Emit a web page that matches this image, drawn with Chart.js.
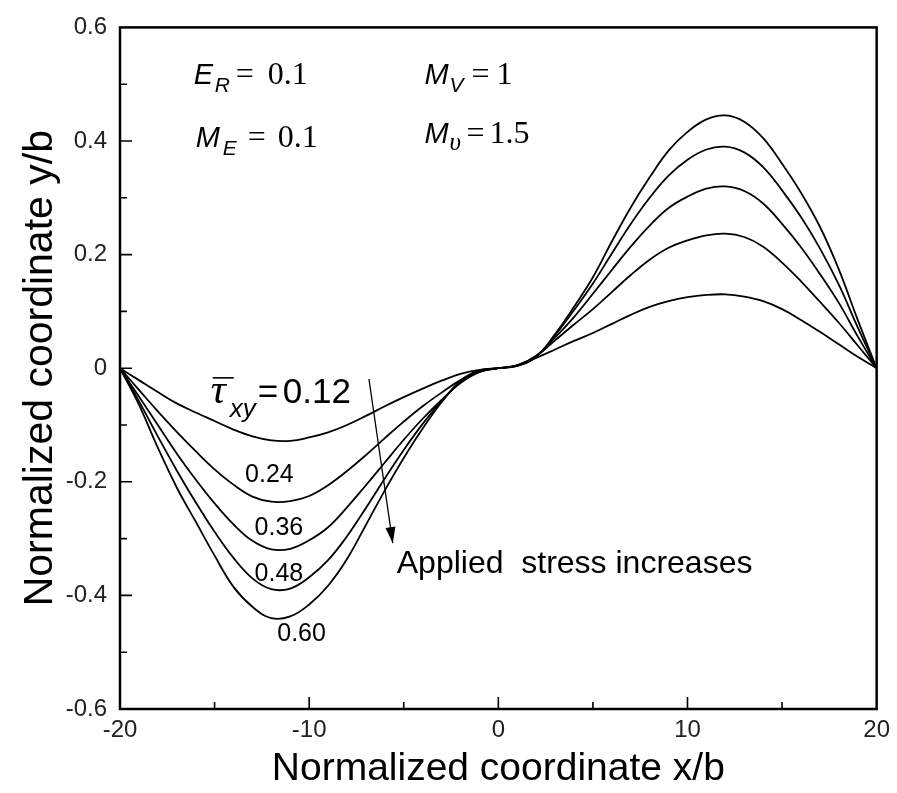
<!DOCTYPE html>
<html lang="en">
<head>
<meta charset="UTF-8">
<title>Normalized coordinate y/b vs x/b</title>
<style>
  body { margin: 0; background: #fff; }
  #chart { display: block; }
</style>
</head>
<body>
<canvas id="chart" width="897" height="793"></canvas>
<script src="https://cdn.jsdelivr.net/npm/chart.js@4"></script>
<script>
// x/b positions shared by every curve
var xValues = [-20, -19, -18, -17, -16, -15, -14, -13, -12, -11, -10, -9, -8, -7, -6, -5, -4, -3, -2, -1,
               0, 1, 2, 3, 4, 5, 6, 7, 8, 9, 10, 11, 12, 13, 14, 15, 16, 17, 18, 19, 20];

// y/b, one array per applied stress
var tau012 = [0, -0.021, -0.042, -0.062, -0.078, -0.093, -0.108, -0.12, -0.127, -0.128, -0.122, -0.113, -0.1, -0.084, -0.067, -0.051, -0.036, -0.022, -0.01, -0.003,
              0, 0.005, 0.018, 0.033, 0.048, 0.062, 0.078, 0.094, 0.108, 0.118, 0.125, 0.129, 0.130, 0.126, 0.118, 0.104, 0.085, 0.064, 0.042, 0.02, 0];
var tau024 = [0, -0.038, -0.076, -0.112, -0.146, -0.178, -0.205, -0.226, -0.235, -0.234, -0.225, -0.206, -0.181, -0.153, -0.123, -0.094, -0.067, -0.043, -0.021, -0.006,
              0, 0.005, 0.021, 0.049, 0.077, 0.104, 0.134, 0.164, 0.191, 0.212, 0.225, 0.234, 0.237, 0.231, 0.214, 0.186, 0.153, 0.117, 0.080, 0.04, 0];
var tau036 = [0, -0.05, -0.1, -0.15, -0.196, -0.238, -0.275, -0.304, -0.319, -0.318, -0.303, -0.28, -0.245, -0.206, -0.166, -0.126, -0.089, -0.056, -0.026, -0.007,
              0, 0.005, 0.022, 0.054, 0.09, 0.131, 0.173, 0.214, 0.251, 0.282, 0.302, 0.316, 0.320, 0.312, 0.290, 0.254, 0.213, 0.166, 0.115, 0.056, 0];
var tau048 = [0, -0.058, -0.12, -0.18, -0.236, -0.288, -0.334, -0.37, -0.389, -0.388, -0.368, -0.338, -0.296, -0.246, -0.194, -0.144, -0.098, -0.058, -0.025, -0.005,
              0, 0.004, 0.02, 0.058, 0.102, 0.149, 0.202, 0.254, 0.300, 0.339, 0.367, 0.385, 0.390, 0.380, 0.354, 0.313, 0.266, 0.211, 0.147, 0.072, 0];
var tau060 = [0, -0.064, -0.14, -0.21, -0.27, -0.33, -0.385, -0.42, -0.44, -0.437, -0.416, -0.383, -0.336, -0.276, -0.215, -0.158, -0.106, -0.06, -0.022, -0.004,
              0, 0.004, 0.02, 0.06, 0.108, 0.160, 0.223, 0.283, 0.336, 0.383, 0.416, 0.438, 0.445, 0.434, 0.405, 0.360, 0.309, 0.249, 0.174, 0.085, 0];

var curveLabels = ['0.24', '0.36', '0.48', '0.60'];

// inward tick marks
var xMajorTicks = [-10, 0, 10];
var xMinorTicks = [-15, -5, 5, 15];
var yMajorTicks = [-0.4, -0.2, 0, 0.2, 0.4];
var yMinorTicks = [-0.5, -0.3, -0.1, 0.1, 0.3, 0.5];

var SANS = "'Liberation Sans', Arial, sans-serif";
var SERIF = "'Liberation Serif', 'Times New Roman', serif";

function toPoints(ys) {
    return xValues.map(function (x, i) { return { x: x, y: ys[i] }; });
}

var datasets = [tau012, tau024, tau036, tau048, tau060].map(function (ys) {
    return {
        data: toPoints(ys),
        borderColor: '#000',
        borderWidth: 1.8,
        pointRadius: 0,
        fill: false,
        tension: 0.4
    };
});

function drawParts(ctx, x0, y0, parts) {
    parts.forEach(function (p) {
        ctx.font = p.f;
        ctx.fillText(p.t, x0 + p.dx, y0 + (p.dy || 0));
    });
}

// frame and inward ticks
var framePlugin = {
    id: 'framePlugin',
    afterDraw: function (chart) {
        var ctx = chart.ctx, a = chart.chartArea, xs = chart.scales.x, ys = chart.scales.y;
        ctx.save();
        ctx.strokeStyle = '#000';
        ctx.lineWidth = 1.6;
        ctx.beginPath();
        xMajorTicks.forEach(function (v) {
            var px = xs.getPixelForValue(v);
            ctx.moveTo(px, a.bottom); ctx.lineTo(px, a.bottom - 12);
        });
        xMinorTicks.forEach(function (v) {
            var px = xs.getPixelForValue(v);
            ctx.moveTo(px, a.bottom); ctx.lineTo(px, a.bottom - 7);
        });
        yMajorTicks.forEach(function (v) {
            var py = ys.getPixelForValue(v);
            ctx.moveTo(a.left, py); ctx.lineTo(a.left + 12, py);
        });
        yMinorTicks.forEach(function (v) {
            var py = ys.getPixelForValue(v);
            ctx.moveTo(a.left, py); ctx.lineTo(a.left + 7, py);
        });
        ctx.stroke();
        ctx.lineWidth = 2.5;
        ctx.strokeRect(a.left, a.top, a.right - a.left, a.bottom - a.top);
        ctx.restore();
    }
};

// texts inside the plot
var notesPlugin = {
    id: 'notesPlugin',
    afterDatasetsDraw: function (chart) {
        var ctx = chart.ctx, xs = chart.scales.x, ys = chart.scales.y;
        function P(xv, yv) { return [xs.getPixelForValue(xv), ys.getPixelForValue(yv)]; }
        ctx.save();
        ctx.fillStyle = '#000';
        ctx.textBaseline = 'alphabetic';
        ctx.textAlign = 'left';

        var p = P(-16.1, 0.5);
        drawParts(ctx, p[0], p[1], [
            { t: 'E', f: 'italic 29px ' + SANS, dx: 0 },
            { t: 'R', f: 'italic 21px ' + SANS, dx: 21, dy: 8 },
            { t: '=', f: '32px ' + SERIF, dx: 42 },
            { t: '0.1', f: '32px ' + SERIF, dx: 74 }
        ]);
        p = P(-16.0, 0.389);
        drawParts(ctx, p[0], p[1], [
            { t: 'M', f: 'italic 29px ' + SANS, dx: 0 },
            { t: 'E', f: 'italic 21px ' + SANS, dx: 27, dy: 8 },
            { t: '=', f: '32px ' + SERIF, dx: 52 },
            { t: '0.1', f: '32px ' + SERIF, dx: 82 }
        ]);
        p = P(-3.9, 0.5);
        drawParts(ctx, p[0], p[1], [
            { t: 'M', f: 'italic 29px ' + SANS, dx: 0 },
            { t: 'V', f: 'italic 21px ' + SANS, dx: 25, dy: 8 },
            { t: '=', f: '32px ' + SERIF, dx: 47 },
            { t: '1', f: '32px ' + SERIF, dx: 72 }
        ]);
        p = P(-3.9, 0.396);
        drawParts(ctx, p[0], p[1], [
            { t: 'M', f: 'italic 29px ' + SANS, dx: 0 },
            { t: '\u03C5', f: 'italic 25px ' + SERIF, dx: 25, dy: 7 },
            { t: '=', f: '32px ' + SERIF, dx: 42 },
            { t: '1.5', f: '32px ' + SERIF, dx: 65 }
        ]);

        // tau label with overbar
        p = P(-15.2, -0.061);
        drawParts(ctx, p[0], p[1], [
            { t: '\u03C4', f: 'italic 42px ' + SERIF, dx: 0 },
            { t: 'xy', f: 'italic 26px ' + SANS, dx: 19, dy: 14 },
            { t: '=', f: '35px ' + SANS, dx: 47 },
            { t: '0.12', f: '35px ' + SANS, dx: 72 }
        ]);
        ctx.lineWidth = 1.6;
        ctx.beginPath();
        ctx.moveTo(p[0] + 2, p[1] - 25);
        ctx.lineTo(p[0] + 23, p[1] - 25);
        ctx.stroke();

        // stress values beside the curves
        ctx.textAlign = 'center';
        ctx.textBaseline = 'middle';
        ctx.font = '25px ' + SANS;
        var spots = [[-12.1, -0.189], [-11.6, -0.281], [-11.6, -0.362], [-10.4, -0.468]];
        curveLabels.forEach(function (t, i) {
            var q = P(spots[i][0], spots[i][1]);
            ctx.fillText(t, q[0], q[1]);
        });

        // arrow
        var s = P(-6.84, -0.019), e = P(-5.58, -0.308);
        ctx.lineWidth = 1.3;
        ctx.beginPath();
        ctx.moveTo(s[0], s[1]);
        ctx.lineTo(e[0], e[1]);
        ctx.stroke();
        var ang = Math.atan2(e[1] - s[1], e[0] - s[0]);
        ctx.beginPath();
        ctx.moveTo(e[0], e[1]);
        ctx.lineTo(e[0] - 16 * Math.cos(ang) + 5 * Math.sin(ang), e[1] - 16 * Math.sin(ang) - 5 * Math.cos(ang));
        ctx.lineTo(e[0] - 16 * Math.cos(ang) - 5 * Math.sin(ang), e[1] - 16 * Math.sin(ang) + 5 * Math.cos(ang));
        ctx.closePath();
        ctx.fill();

        ctx.textAlign = 'left';
        ctx.font = '32px ' + SANS;
        var t = P(-5.37, -0.345);
        ctx.fillText('Applied  stress increases', t[0], t[1]);
        ctx.restore();
    }
};

new Chart(document.getElementById('chart'), {
    type: 'line',
    data: { datasets: datasets },
    options: {
        responsive: false,
        animation: false,
        layout: { padding: { top: 16, right: 17, left: 0, bottom: 0 } },
        plugins: { legend: { display: false }, tooltip: { enabled: false } },
        scales: {
            x: {
                type: 'linear',
                min: -20,
                max: 20,
                grid: { display: false, drawTicks: false },
                border: { display: false },
                ticks: {
                    stepSize: 10,
                    padding: 7,
                    color: '#222',
                    font: { family: SANS, size: 24 },
                    maxRotation: 0,
                    callback: function (v) { return String(v); }
                },
                title: {
                    display: true,
                    text: 'Normalized coordinate x/b',
                    color: '#000',
                    font: { family: SANS, size: 39 },
                    padding: { top: 0, bottom: 0 }
                },
                afterFit: function (s) { s.height = 84; }
            },
            y: {
                min: -0.6,
                max: 0.6,
                grid: { display: false, drawTicks: false },
                border: { display: false },
                ticks: {
                    stepSize: 0.2,
                    padding: 13,
                    color: '#222',
                    font: { family: SANS, size: 24 },
                    callback: function (v) { return String(Math.round(v * 10) / 10); }
                },
                title: {
                    display: true,
                    text: 'Normalized coordinate y/b',
                    color: '#000',
                    font: { family: SANS, size: 41 },
                    padding: { top: 16, bottom: 0 }
                },
                afterFit: function (s) { s.width = 120; }
            }
        }
    },
    plugins: [framePlugin, notesPlugin]
});
</script>
</body>
</html>
